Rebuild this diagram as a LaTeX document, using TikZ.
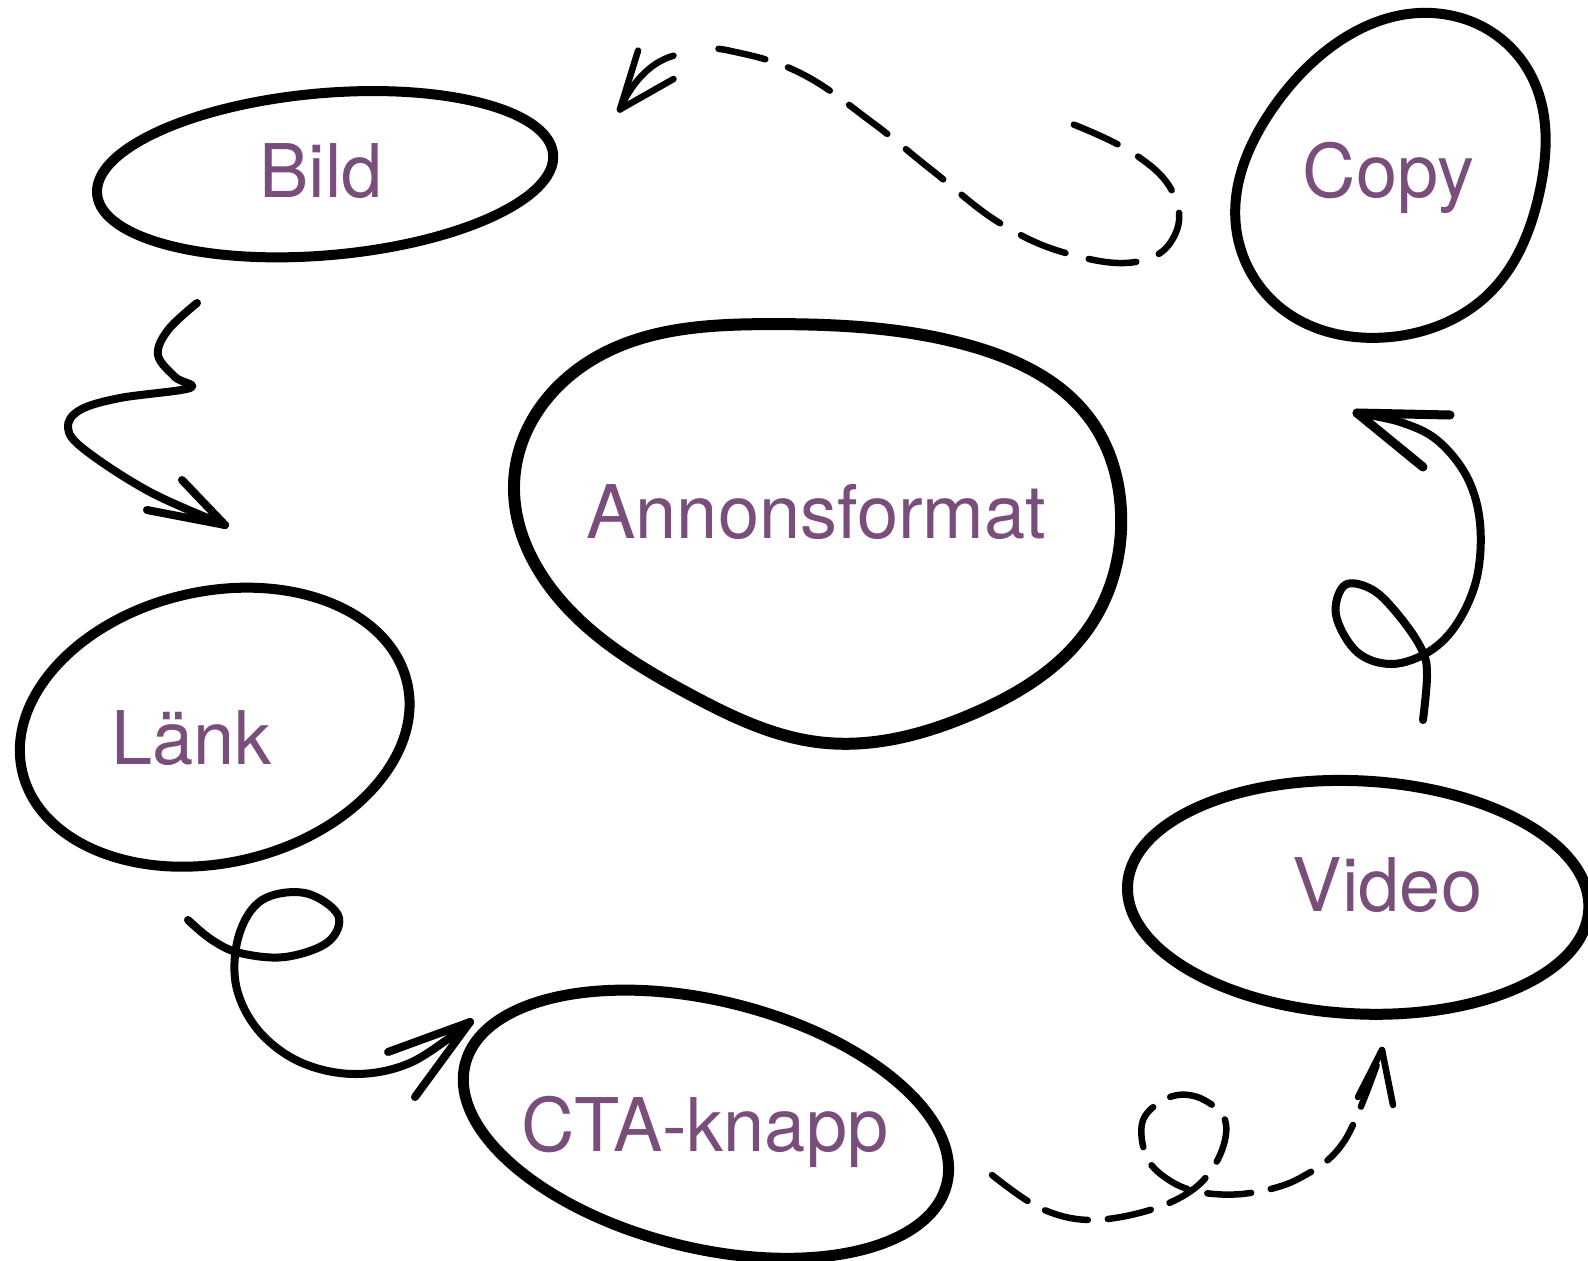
\documentclass[tikz,border=0pt]{standalone}
\usepackage{fontspec}
\setmainfont{TeX Gyre Heros}
\usetikzlibrary{hobby}
\definecolor{labelpurple}{RGB}{122,78,122}
\tikzset{
  sketch/.style={line width=10pt, line join=round, line cap=round},
  conn/.style={line width=8pt, line join=round, line cap=round},
  dconn/.style={line width=6.5pt, line cap=round, dash pattern=on 48pt off 24pt},
  lbl/.style={text=labelpurple, font=\fontsize{74}{80}\selectfont, inner sep=0pt, anchor=base},
}
\begin{document}
\begin{tikzpicture}[x=1pt,y=-1pt]
\useasboundingbox (0,0) rectangle (1588,1261);
\begin{scope}[scale=1.0128]
% shapes
\draw[sketch] (321,172) ellipse[x radius=226, y radius=80, rotate=5];
\draw[sketch, use Hobby shortcut, closed=true] (1440,17) .. (1512,75) .. (1520,190) .. (1472,288) .. (1370,333) .. (1262,302) .. (1220,220) .. (1258,105);
\draw[sketch, line width=12pt, use Hobby shortcut, closed=true] (508,470) .. (590,352) .. (760,320) .. (960,342) .. (1075,412) .. (1107,510) .. (1075,620) .. (960,705) .. (810,733) .. (680,685) .. (560,600);
\draw[sketch] (212,718) ellipse[x radius=195, y radius=134, rotate=13];
\draw[sketch, line width=11pt] (1341,886) ellipse[x radius=228, y radius=115, rotate=-3];
\draw[sketch, line width=11pt] (697,1110) ellipse[x radius=245, y radius=122, rotate=-14];
% labels
\node[lbl] (bild) at (317,195) {Bild};
\node[lbl] (copy) at (1371,195) {Copy};
\node[lbl] (annons) at (806,532) {Annonsformat};
\node[lbl] (lank) at (189,755) {Länk};
\node[lbl] (video) at (1370,900) {Video};
\node[lbl] (cta) at (696,1137) {CTA-knapp};
% dashed Copy -> Bild
\coordinate (d1s) at (1060,123);
\coordinate (d1t) at (612,108);
\draw[dconn] plot[smooth, tension=0.7] coordinates {(d1s) (1120,152) (1158,190) (1160,232) (1125,258) (1060,252) (990,222) (920,168) (860,120) (790,72) (720,50) (688,49)};
\draw[conn, line width=6.5pt] (665,55) .. controls (640,62) and (622,85) .. (d1t);
\draw[conn, line width=6.5pt] (d1t) -- (630,50);
\draw[conn, line width=6.5pt] (d1t) -- (665,78);
\end{scope}
% Bild -> Länk zigzag
\coordinate (z1s) at (197,303);
\coordinate (z1t) at (225,525);
\draw[conn] plot[smooth, tension=0.6] coordinates {(z1s) (168,330) (158,355) (175,377) (190,388) (120,398) (80,410) (68,428) (85,450) (150,492) (z1t)};
\draw[conn] (z1t) -- (182,480);
\draw[conn] (z1t) -- (147,510);
% Länk -> CTA loop
\coordinate (l1s) at (188,920);
\coordinate (l1t) at (470,1022);
\draw[conn] plot[smooth, tension=0.6] coordinates {(l1s) (212,940) (240,953) (285,957) (328,942) (338,915) (305,893) (262,900) (239,935) (236,985) (258,1030) (300,1062) (355,1074) (412,1062) (l1t)};
\draw[conn] (l1t) -- (388,1052);
\draw[conn] (l1t) -- (415,1097);
% CTA -> Video dashed loop
\coordinate (c1s) at (992,1175);
\coordinate (c1t) at (1382,1050);
\draw[dconn, dash pattern=on 44pt off 20pt] plot[smooth, tension=0.6] coordinates {(c1s) (1040,1208) (1090,1220) (1150,1210) (1195,1188) (1220,1155) (1225,1120) (1200,1098) (1170,1097) (1143,1120) (1147,1158) (1172,1182) (1205,1193) (1250,1193) (1300,1178) (1345,1140) (c1t)};
\draw[conn, line width=6.5pt] (c1t) -- (1358,1097);
\draw[conn, line width=6.5pt] (c1t) -- (1393,1105);
% Video -> Copy loop
\coordinate (v1s) at (1423,720);
\coordinate (v1t) at (1357,413);
\draw[conn] plot[smooth, tension=0.6] coordinates {(v1s) (1427,675) (1422,650) (1400,617) (1373,590) (1345,585) (1336,615) (1357,652) (1392,664) (1430,651) (1458,622) (1477,577) (1480,523) (1467,477) (1437,440) (1400,422) (v1t)};
\draw[conn, line width=9pt] (v1t) -- (1450,415);
\draw[conn, line width=9pt] (v1t) -- (1423,467);
\end{tikzpicture}
\end{document}
